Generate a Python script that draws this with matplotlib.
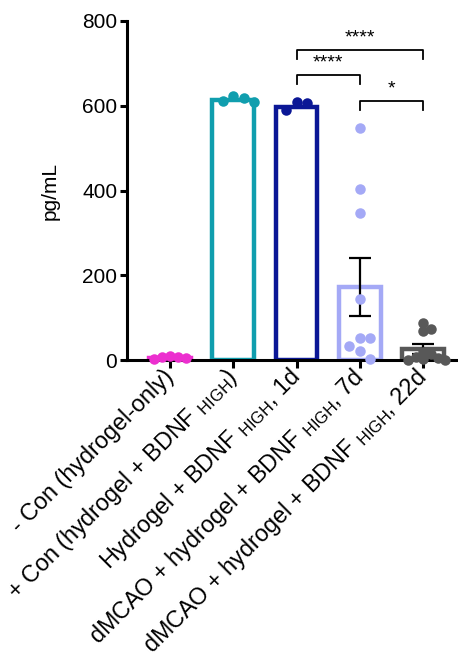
import numpy as np
import matplotlib
matplotlib.use("Agg")
import matplotlib.pyplot as plt

plt.rcParams['font.family'] = ['Liberation Sans', 'DejaVu Sans']
plt.rcParams['mathtext.fontset'] = 'custom'
plt.rcParams['mathtext.rm'] = 'Liberation Sans'
plt.rcParams['mathtext.it'] = 'Liberation Sans'

# ---- data ----
categories = [
    "- Con (hydrogel-only)",
    "+ Con (hydrogel + BDNF $_{\\mathregular{HIGH}}$)",
    "Hydrogel + BDNF $_{\\mathregular{HIGH}}$, 1d",
    "dMCAO + hydrogel + BDNF $_{\\mathregular{HIGH}}$, 7d",
    "dMCAO + hydrogel + BDNF $_{\\mathregular{HIGH}}$, 22d",
]
means = [5, 613, 598, 173, 26]
sems = [0, 0, 0, 68, 12]
points_neg = [9, 6, 4, 7, 3]
points_pos = [622, 612, 610, 618]
points_1d = [608, 590, 607]
points_7d = [548, 403, 348, 143, 53, 53, 34, 22, 2]
points_22d = [88, 74, 69, 20, 14, 8, 4, 2, 1, 0]
all_points = [points_neg, points_pos, points_1d, points_7d, points_22d]
colors = ["#EC2FCF", "#109EAE", "#0B1796", "#A4A9F6", "#585858"]
comparisons = [(2, 4, "****"), (2, 3, "****"), (3, 4, "*")]
bracket_levels = [731, 672, 611]
yticks = [0, 200, 400, 600, 800]

# ---- figure ----
W, H = 458, 660
fig = plt.figure(figsize=(W / 100, H / 100), dpi=100)
ax = fig.add_axes([127 / W, 1 - 360 / H, (458 - 127) / W, (360 - 21) / H])
ax.set_xlim(-0.68, 4.55)
ax.set_ylim(0, 800)

x = np.arange(len(categories))
bar_w = 0.66
for i in x:
    ax.bar(i, means[i], width=bar_w, facecolor='white', edgecolor=colors[i],
           linewidth=3.2, zorder=2)
    if sems[i] > 0:
        ax.errorbar(i, means[i], yerr=sems[i], fmt='none', ecolor='black',
                    elinewidth=1.6, capsize=8, capthick=1.6, zorder=3)


def swarm(vals, xc, diam_px, factor):
    """Greedy beeswarm offsets in data units."""
    order = np.argsort(vals)[::-1]
    placed = []
    xs = np.zeros(len(vals))
    step = diam_px * factor / 2.0
    x0px = ax.transData.transform((xc, 0))[0]
    x1px = ax.transData.transform((xc + 1, 0))[0]
    pxper = x1px - x0px
    for k in order:
        ypx = ax.transData.transform((xc, vals[k]))[1]
        cands = [0]
        for m in range(1, 20):
            cands += [m * step, -m * step]
        for c in cands:
            ok = all((c - px) ** 2 + (ypx - py) ** 2 >= (diam_px * factor) ** 2 - 1e-6
                     for px, py in placed)
            if ok:
                placed.append((c, ypx))
                xs[k] = xc + c / pxper
                break
    return xs

diam = 10.5
factors = [0.75, 1.0, 1.0, 1.0, 0.7]
for i, pts in enumerate(all_points):
    xs = swarm(pts, i, diam, factors[i])
    ax.scatter(xs, pts, s=(diam / 1.389) ** 2, color=colors[i], zorder=4,
               clip_on=False, linewidths=0)

# significance brackets
tick_drop = 20
for (a, b, lab), lvl in zip(comparisons, bracket_levels):
    ax.plot([a, a, b, b], [lvl - tick_drop, lvl, lvl, lvl - tick_drop],
            color='black', linewidth=1.3, zorder=5)
    ax.text((a + b) / 2, lvl + 8, lab, ha='center', va='bottom', fontsize=14,
            color='black')

# axes styling
for s in ['top', 'right']:
    ax.spines[s].set_visible(False)
for s in ['left', 'bottom']:
    ax.spines[s].set_linewidth(2.2)
ax.set_yticks(yticks)
ax.set_yticklabels([str(v) for v in yticks], fontsize=15)
ax.tick_params(axis='y', width=2.2, length=5, pad=2)
ax.tick_params(axis='x', width=2.2, length=6, pad=4)
ax.set_xticks(x)
ax.set_xticklabels(categories, rotation=45, ha='right', va='center',
                   rotation_mode='anchor', fontsize=16.8)
ax.set_ylabel("pg/mL", fontsize=15, labelpad=16)

fig.savefig("out.png", dpi=100)
